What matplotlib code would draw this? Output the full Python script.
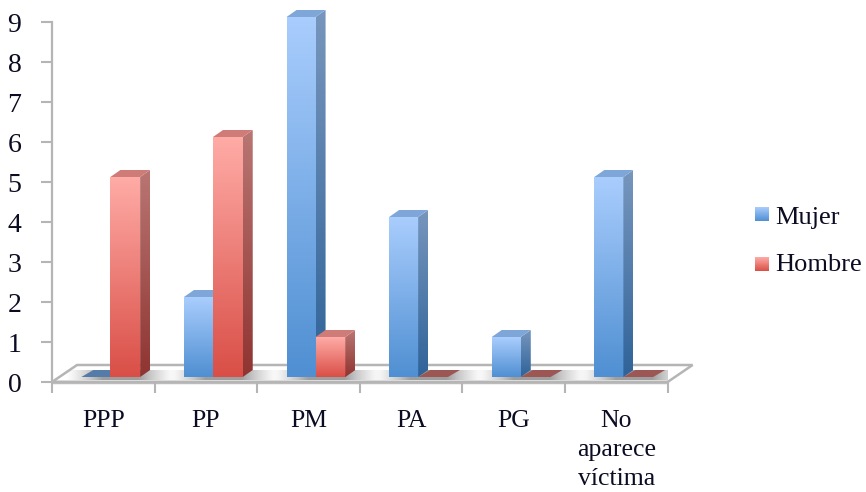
import numpy as np
import matplotlib
matplotlib.use("Agg")
import matplotlib.pyplot as plt
from matplotlib.colors import LinearSegmentedColormap as LSC
from matplotlib.patches import Polygon

categories = ["PPP", "PP", "PM", "PA", "PG", "No\naparece\nvíctima"]
mujer = [0, 2, 9, 4, 1, 5]
hombre = [5, 6, 1, 0, 0, 0]
y_ticks = list(range(10))
series_names = ["Mujer", "Hombre"]

W, H = 866, 492
plt.rcParams["font.family"] = ["Liberation Serif", "DejaVu Serif"]
fig = plt.figure(figsize=(W / 100, H / 100), dpi=100)
L, R, B = 52, 667.6, 382
unit = 40.0             # px per value unit
ymax = B / unit
ax = fig.add_axes([L / W, 1 - B / H, (R - L) / W, B / H])
ax.set_xlim(-0.5, 5.5)
ax.set_ylim(0, ymax)
px = 6 / (R - L)        # 1 px in category units
py = 1 / unit           # 1 px in value units

blue_f = LSC.from_list("bf", ["#4f8fd2", "#a9cdfd"])
blue_s = LSC.from_list("bs", ["#2f6399", "#7796bd"])
red_f = LSC.from_list("rf", ["#d94f47", "#ffaba6"])
red_s = LSC.from_list("rs", ["#8f3431", "#b97673"])
grad = np.linspace(1, 0, 128).reshape(-1, 1)
# horizontal fade for the soft shadow: transparent, grey, transparent
shadow = LSC.from_list("sh", [(0.75, 0.75, 0.75, 0), (0.62, 0.62, 0.62, 1), (0.62, 0.62, 0.62, 1),
                              (0.75, 0.75, 0.75, 0)])
hfade = np.linspace(0, 1, 64).reshape(1, -1)

# floor
fdx, fdy = 25 * px, 17 * py
ax.add_patch(Polygon([(-0.5, 0), (5.5, 0), (5.5 + fdx, fdy), (-0.5 + fdx, fdy)], closed=True,
                     fc="white", ec="#b5b5b5", lw=1.8, clip_on=False, zorder=1))
ax.plot([-0.5, 5.5], [-0.2 * py, -0.2 * py], color="#bdbdbd", lw=2.5, clip_on=False, zorder=1.4,
        solid_capstyle="butt")
for i in range(len(categories)):
    ax.imshow(hfade, extent=(i - 0.36, i + 0.7, 2 * py, 12 * py), aspect="auto", cmap=shadow,
              vmin=0, vmax=1, zorder=1.2, interpolation="bilinear")


def bar(cat, left, width, val, cf, cs, flat, top, zo):
    x0 = cat + left
    x1 = x0 + width
    base = 5 * py
    dx, dy = 10 * px, 7 * py
    if val == 0:
        ax.add_patch(Polygon([(x0, base), (x1, base), (x1 + dx * 1.2, base + dy), (x0 + dx * 1.2, base + dy)],
                             closed=True, fc=flat, ec="none", zorder=zo, clip_on=False))
        return
    y1 = base + val
    ax.imshow(grad, extent=(x0, x1, base, y1), aspect="auto", cmap=cf, vmin=0, vmax=1,
              zorder=zo, interpolation="bilinear")
    im = ax.imshow(grad, extent=(x1, x1 + dx, base, y1 + dy), aspect="auto", cmap=cs, vmin=0, vmax=1,
                   zorder=zo, interpolation="bilinear")
    im.set_clip_path(Polygon([(x1, base), (x1 + dx, base + dy), (x1 + dx, y1 + dy), (x1, y1)],
                             closed=True, transform=ax.transData))
    ax.add_patch(Polygon([(x0, y1), (x1, y1), (x1 + dx, y1 + dy), (x0 + dx, y1 + dy)],
                         closed=True, fc=top, ec="none", zorder=zo, clip_on=False))


for i, (m, h) in enumerate(zip(mujer, hombre)):
    bar(i, -0.214, 0.283, m, blue_f, blue_s, "#557ba8", "#7fa6d8", 3)
    bar(i, 0.069, 0.29, h, red_f, red_s, "#9c5755", "#cf7b78", 4)

ax.set_xlim(-0.5, 5.5)
ax.set_ylim(0, ymax)
for s in ["top", "right"]:
    ax.spines[s].set_visible(False)
for s in ["left", "bottom"]:
    ax.spines[s].set_color("#b5b5b5")
    ax.spines[s].set_linewidth(1.6)
ax.spines["left"].set_bounds(0, 9)
ax.patch.set_alpha(0)
ax.set_yticks(y_ticks)
ax.set_xticks(np.arange(-0.5, 5.6, 1))
ax.set_xticklabels([])
ax.tick_params(axis="both", length=8, width=1.5, color="#b5b5b5", labelcolor="#0b0b22")
ax.tick_params(axis="y", labelsize=20, pad=14)
for i, c in enumerate(categories):
    ax.annotate(c, (i, 0), xytext=(0, -28), textcoords="offset pixels", ha="center", va="top",
                fontsize=18.5, color="#0b0b22", linespacing=1.42, annotation_clip=False)

# legend
for name, y, sq, cm in zip(series_names, (218, 265), (207, 257), (blue_f, red_f)):
    lax = fig.add_axes([755 / W, 1 - (sq + 14) / H, 14 / W, 14 / H])
    lax.imshow(grad, aspect="auto", cmap=cm, vmin=0, vmax=1)
    lax.axis("off")
    fig.text(775 / W, 1 - y / H, name, fontsize=19, color="#0b0b22", va="center", ha="left")

fig.savefig("out.png", dpi=100)
